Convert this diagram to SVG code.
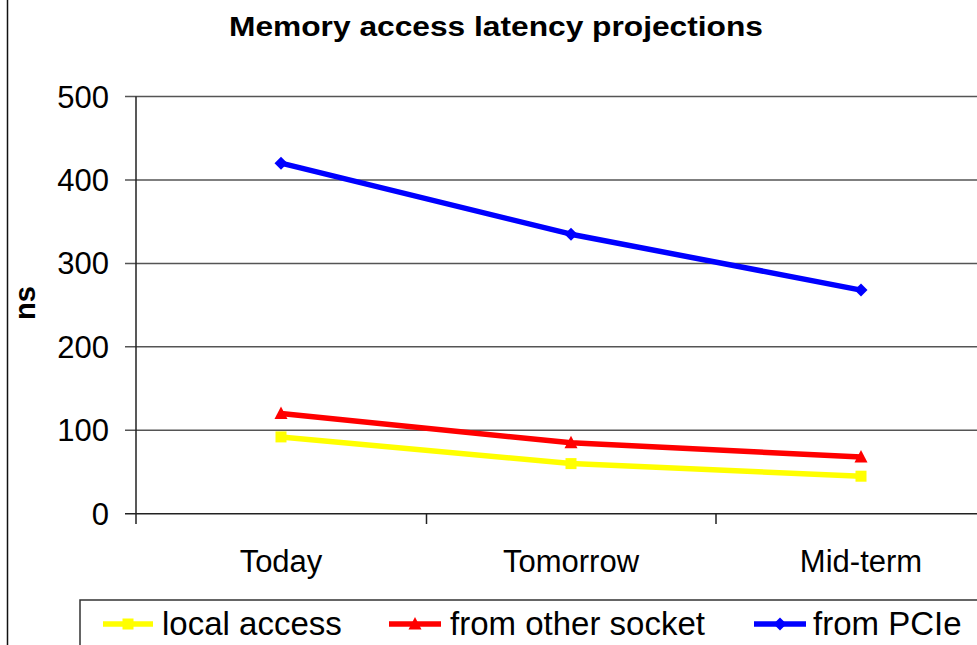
<svg xmlns="http://www.w3.org/2000/svg" width="977" height="645" viewBox="0 0 977 645">
<style>
text{font-family:"Liberation Sans",Arial,sans-serif;fill:#000}
.title{font-size:28px;font-weight:bold}
.ylab{font-size:31px;text-anchor:end}
.xlab{font-size:31px;text-anchor:middle}
.leg{font-size:33px}
.grid{stroke:#555;stroke-width:1.5;fill:none}
.axis{stroke:#222;stroke-width:1.5;fill:none}
.s-y{stroke:#FFFF00;stroke-width:5.5;fill:none;stroke-linejoin:round}
.s-r{stroke:#FF0000;stroke-width:5.5;fill:none;stroke-linejoin:round}
.s-b{stroke:#0000FF;stroke-width:5.5;fill:none;stroke-linejoin:round}
</style>
<defs>
<rect id="msq" x="-5.5" y="-5.5" width="11" height="11" fill="#FFFF00"/>
<path id="mtri" d="M0,-7 L6.5,5.5 L-6.5,5.5 Z" fill="#FF0000"/>
<path id="mdia" d="M0,-6.5 L6.5,0 L0,6.5 L-6.5,0 Z" fill="#0000FF"/>
</defs>
<rect x="0" y="0" width="977" height="645" fill="#fff"/>
<line x1="7.5" y1="0" x2="7.5" y2="645" stroke="#111" stroke-width="1.5"/>
<text class="title" x="229" y="36" textLength="534" lengthAdjust="spacingAndGlyphs">Memory access latency projections</text>

<g id="gridlines">
<line class="grid" x1="125" y1="96.5" x2="977" y2="96.5"/>
<line class="grid" x1="125" y1="180" x2="977" y2="180"/>
<line class="grid" x1="125" y1="263.4" x2="977" y2="263.4"/>
<line class="grid" x1="125" y1="346.8" x2="977" y2="346.8"/>
<line class="grid" x1="125" y1="430.3" x2="977" y2="430.3"/>
</g>
<g id="axes">
<line class="axis" x1="136" y1="96.5" x2="136" y2="524"/>
<line class="axis" x1="125" y1="513.7" x2="977" y2="513.7"/>
<line class="axis" x1="426.5" y1="513.7" x2="426.5" y2="524"/>
<line class="axis" x1="716" y1="513.7" x2="716" y2="524"/>
</g>
<g id="ylabels">
<text class="ylab" x="109" y="107.5">500</text>
<text class="ylab" x="109" y="191">400</text>
<text class="ylab" x="109" y="274.4">300</text>
<text class="ylab" x="109" y="357.8">200</text>
<text class="ylab" x="109" y="441.3">100</text>
<text class="ylab" x="109" y="524.7">0</text>
</g>
<text transform="translate(35,303) rotate(-90)" x="0" y="0" style="font-size:29px;font-weight:bold;text-anchor:middle">ns</text>
<g id="xlabels">
<text class="xlab" x="281" y="572">Today</text>
<text class="xlab" x="571" y="572">Tomorrow</text>
<text class="xlab" x="861" y="572">Mid-term</text>
</g>

<g id="series">
<g id="local-access">
<polyline class="s-y" points="281,436.9 571,463.6 861,476.2"/>
<use href="#msq" x="281" y="436.9"/>
<use href="#msq" x="571" y="463.6"/>
<use href="#msq" x="861" y="476.2"/>
</g>
<g id="other-socket">
<polyline class="s-r" points="281,413.6 571,442.8 861,457"/>
<use href="#mtri" x="281" y="413.6"/>
<use href="#mtri" x="571" y="442.8"/>
<use href="#mtri" x="861" y="457"/>
</g>
<g id="pcie">
<polyline class="s-b" points="281,163.2 571,234.2 861,290.1"/>
<use href="#mdia" x="281" y="163.2"/>
<use href="#mdia" x="571" y="234.2"/>
<use href="#mdia" x="861" y="290.1"/>
</g>
</g>

<g id="legend">
<rect x="80" y="600" width="920" height="80" fill="#fff" stroke="#333" stroke-width="1.5"/>
<line class="s-y" x1="103" y1="624" x2="153" y2="624"/>
<use href="#msq" x="128" y="624"/>
<text class="leg" x="162" y="635">local access</text>
<line class="s-r" x1="389" y1="624" x2="441" y2="624"/>
<use href="#mtri" x="415" y="624"/>
<text class="leg" x="450" y="635">from other socket</text>
<line class="s-b" x1="754" y1="624" x2="806" y2="624"/>
<use href="#mdia" x="780" y="624"/>
<text class="leg" x="813" y="635">from PCIe</text>
</g>
</svg>
